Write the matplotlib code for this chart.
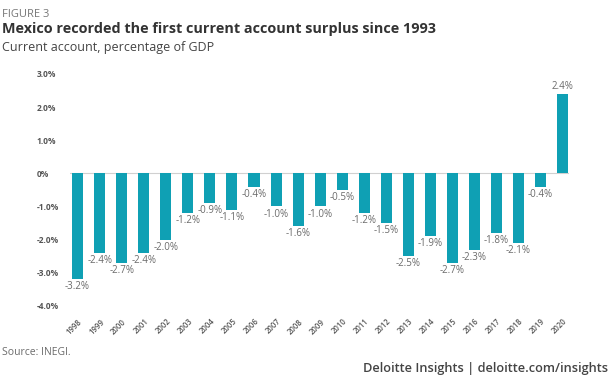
import matplotlib.pyplot as plt

years = [str(y) for y in range(1998, 2021)]
values = [-3.2, -2.4, -2.7, -2.4, -2.0, -1.2, -0.9, -1.1, -0.4, -1.0, -1.6,
          -1.0, -0.5, -1.2, -1.5, -2.5, -1.9, -2.7, -2.3, -1.8, -2.1, -0.4, 2.4]
y_ticks = [3, 2, 1, 0, -1, -2, -3, -4]
y_tick_labels = ["3.0%", "2.0%", "1.0%", "0%", "-1.0%", "-2.0%", "-3.0%", "-4.0%"]

BAR = "#0fa0b4"
DARK = "#333333"
GREY = "#6b6b6b"

plt.rcParams["font.family"] = ["Open Sans", "DejaVu Sans"]

fig = plt.figure(figsize=(6.13, 3.79), dpi=100)
ax = fig.add_axes([0.114, 0.193, 0.814, 0.612])

x = list(range(len(years)))
ax.bar(x, values, width=0.5, color=BAR, zorder=2)
ax.axhline(0, color="#d0d0d0", lw=0.8, zorder=1)

# value labels above positive bars, below negative ones
for xi, v in zip(x, values):
    if v >= 0:
        ax.annotate(f"{v:.1f}%", (xi, v), xytext=(0, 1), textcoords="offset points",
                    ha="center", va="bottom", fontsize=7, color=GREY)
    else:
        ax.annotate(f"{v:.1f}%", (xi, v), xytext=(0, -1.5), textcoords="offset points",
                    ha="center", va="top", fontsize=7, color=GREY)

ax.set_xlim(-0.35, 22.28)
ax.set_ylim(-4, 3)
ax.set_yticks(y_ticks)
ax.set_yticklabels(y_tick_labels, fontsize=6, fontweight="bold", color="#555555")
for lab in ax.get_yticklabels():
    lab.set_horizontalalignment("left")
ax.tick_params(axis="y", length=0, pad=24)

ax.set_xticks(x)
ax.set_xticklabels(years, rotation=45, ha="right", rotation_mode="anchor",
                   fontsize=5.5, fontweight="semibold", color="#555555")
ax.tick_params(axis="x", length=0, pad=8)

for s in ax.spines.values():
    s.set_visible(False)

fig.text(0.003, 0.975, "FIGURE 3", fontsize=8, color="#777777", va="top")
fig.text(0.003, 0.942, "Mexico recorded the first current account surplus since 1993",
         fontsize=10.4, fontweight="bold", color=DARK, va="top")
fig.text(0.003, 0.893, "Current account, percentage of GDP", fontsize=9,
         color="#444444", va="top")
fig.text(0.003, 0.071, "Source: INEGI.", fontsize=7.5, color=GREY, va="center")
fig.text(0.992, 0.028, "Deloitte Insights | deloitte.com/insights", fontsize=9.2,
         fontweight="semibold", color="#444444", ha="right", va="center")

fig.savefig("out.png", dpi=100)
